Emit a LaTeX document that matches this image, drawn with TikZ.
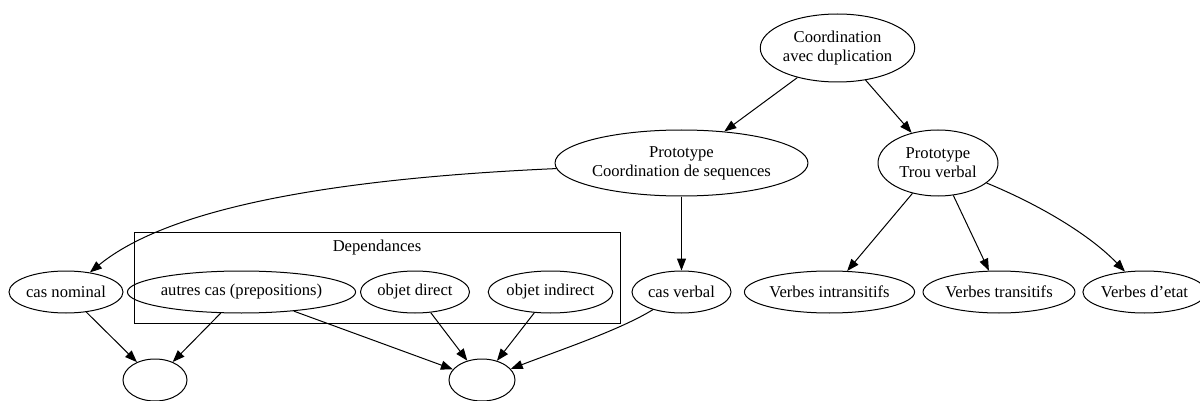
\documentclass[tikz,border=0pt]{standalone}
\usepackage{fontspec}
\setmainfont{Liberation Serif}
\usetikzlibrary{arrows.meta,shapes.geometric}
\begin{document}
\begin{tikzpicture}[x=1pt,y=-1pt,
  every node/.style={font=\fontsize{16.6}{19}\selectfont},
  el/.style={draw, ellipse, line width=1pt, inner sep=0pt, align=center},
  edge/.style={line width=1pt, -{Triangle[length=12pt,width=9pt]}}]
\useasboundingbox (0,0) rectangle (1200,401);
% cluster
\node[draw, line width=1pt, minimum width=486pt, minimum height=91pt, inner sep=0pt] (cluster) at (377,277.5) {};
\node (dep) at (377,248) {Dependances};
% nodes
\node[el, minimum width=153pt, minimum height=68pt] (cad) at (837.5,48) {Coordination\\avec duplication};
\node[el, minimum width=225pt, minimum height=66pt] (pcs) at (681.5,163) {Prototype\\Coordination de sequences};
\node[el, minimum width=120pt, minimum height=66pt] (ptv) at (938,163) {Prototype\\Trou verbal};
\node[el, minimum width=114pt, minimum height=42pt] (cn) at (66,292) {cas nominal};
\node[el, minimum width=195pt, minimum height=42pt] (ac) at (241.5,292) {autres cas (prepositions)};
\node[el, minimum width=109pt, minimum height=42pt] (od) at (415,292) {objet direct};
\node[el, minimum width=121pt, minimum height=42pt] (oi) at (550.5,292) {objet indirect};
\node[el, minimum width=99pt, minimum height=42pt] (cv) at (681.5,292) {cas verbal};
\node[el, minimum width=155pt, minimum height=42pt] (vi) at (829.5,292) {Verbes intransitifs};
\node[el, minimum width=142pt, minimum height=42pt] (vt) at (999,292) {Verbes transitifs};
\node[el, minimum width=107pt, minimum height=42pt] (ve) at (1144.5,292) {Verbes d’etat};
\node[el, minimum width=64pt, minimum height=42pt] (bl) at (155,380) {};
\node[el, minimum width=66pt, minimum height=42pt] (br) at (482,380) {};
% edges
\draw[edge] (cad) -- (pcs);
\draw[edge] (cad) -- (ptv);
\draw[edge] (pcs) .. controls (300,180) and (160,215) .. (cn);
\draw[edge] (pcs.south) -- (cv.north);
\draw[edge] (ptv) -- (vi);
\draw[edge] (ptv) -- (vt);
\draw[edge] (ptv) .. controls (1040,205) and (1090,235) .. (ve);
\draw[edge] (cn) -- (bl);
\draw[edge] (ac) -- (bl);
\draw[edge] (ac) -- (br);
\draw[edge] (od) -- (br);
\draw[edge] (oi) -- (br);
\draw[edge] (cv) .. controls (620,330) and (560,350) .. (br);
\end{tikzpicture}
\end{document}
